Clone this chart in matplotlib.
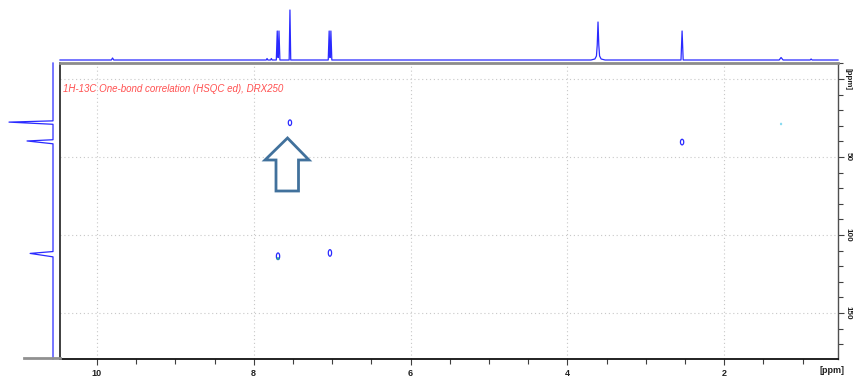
import matplotlib
matplotlib.use("Agg")
import matplotlib.pyplot as plt
from matplotlib.patches import Ellipse, Polygon
from matplotlib.ticker import FixedLocator, MultipleLocator

# ---- 1H projection (top trace): chemical shift [ppm] and relative intensity
proton_ppm = [10.47, 9.815, 9.80, 9.785, 7.84, 7.83, 7.82, 7.785, 7.775, 7.765,
              7.712, 7.700, 7.692, 7.686, 7.678, 7.666,
              7.548, 7.538, 7.528,
              7.050, 7.038, 7.030, 7.024, 7.016, 7.004,
              3.70, 3.65, 3.63, 3.62, 3.61, 3.60, 3.59, 3.57, 3.52,
              2.552, 2.538, 2.524,
              1.30, 1.276, 1.25, 0.905, 0.893, 0.88, 0.55]
proton_int = [0.0, 0.0, 0.04, 0.0, 0.0, 0.03, 0.0, 0.0, 0.03, 0.0,
              0.0, 0.58, 0.05, 0.05, 0.58, 0.0,
              0.0, 1.0, 0.0,
              0.0, 0.58, 0.05, 0.05, 0.58, 0.0,
              0.0, 0.02, 0.08, 0.30, 0.76, 0.30, 0.08, 0.02, 0.0,
              0.0, 0.58, 0.0,
              0.0, 0.05, 0.0, 0.0, 0.02, 0.0, 0.0]

# ---- 13C projection (left trace)
carbon_ppm = [-10.3, 26.8, 27.6, 29.0, 38.9, 39.7, 41.5, 110.6, 111.8, 114.0, 179.5]
carbon_int = [0.0, 0.0, 1.0, 0.0, 0.0, 0.59, 0.0, 0.0, 0.52, 0.0, 0.0]

# ---- HSQC cross peaks: 1H shift, 13C shift, phase (+1 CH/CH3, -1 CH2)
cross_h = [7.538, 7.690, 7.028, 2.538, 1.276]
cross_c = [28.0, 113.6, 111.5, 40.4, 28.8]
cross_phase = [1, 1, 1, 1, -1]

# ---- axis ticks
x_major = [10, 8, 6, 4, 2]
y_major = [0, 50, 100, 150]
y_labels = ["[ppm]", "50", "100", "150"]
title = "1H-13C One-bond correlation (HSQC ed), DRX250"

W, H = 854, 377
fig = plt.figure(figsize=(W / 100, H / 100), dpi=100)
fig.patch.set_facecolor("white")

def px_rect(x0, y0, x1, y1):
    """Figure-fraction rect from pixel box (y measured from top)."""
    return [x0 / W, 1 - y1 / H, (x1 - x0) / W, (y1 - y0) / H]

ax = fig.add_axes(px_rect(60, 63, 838, 359))
ax_top = fig.add_axes(px_rect(60, 0, 838, 63))
ax_left = fig.add_axes(px_rect(0, 63, 60, 359))

XLIM = (10.47, 0.55)
YLIM = (179.5, -10.3)
trace_col = "#2a2aff"

# main 2D panel
ax.set_xlim(*XLIM)
ax.set_ylim(*YLIM)
for xv in x_major:
    ax.axvline(xv, color="#c8c8c8", lw=0.8, ls=(0, (1, 2.5)), zorder=0)
for yv in y_major:
    ax.axhline(yv, color="#c8c8c8", lw=0.8, ls=(0, (1, 2.5)), zorder=0)

for h, c, ph in zip(cross_h, cross_c, cross_phase):
    if ph > 0:
        tall = 4.2 if c > 100 else 3.6
        ax.add_patch(Ellipse((h, c), 0.042, tall, fill=False,
                             ec="#2a2aff", lw=0.9, zorder=3))
    else:
        ax.add_patch(Ellipse((h, c), 0.02, 1.2, fill=True,
                             fc="#7fd8f0", ec="#7fd8f0", lw=0.5, zorder=3))
# second contour level on the 7.69 / 113.6 peak
ax.add_patch(Ellipse((cross_h[1], cross_c[1] + 1.6), 0.03, 1.4, fill=True,
                     fc="#2aa0a0", ec="#2aa0a0", lw=0.5, zorder=4))

ax.xaxis.set_major_locator(FixedLocator(x_major))
ax.xaxis.set_minor_locator(MultipleLocator(0.5))
ax.set_xticklabels([str(v) for v in x_major])
ax.yaxis.tick_right()
ax.yaxis.set_major_locator(FixedLocator(y_major))
ax.yaxis.set_minor_locator(MultipleLocator(10))
ax.set_yticklabels(y_labels)
ax.tick_params(axis="both", which="both", direction="out", colors="#404040",
               labelcolor="#202020", width=0.8)
ax.tick_params(axis="x", which="major", length=4.5, pad=3, labelsize=6.5)
ax.tick_params(axis="y", which="major", length=4, pad=1, labelsize=5.8)
ax.tick_params(axis="both", which="minor", length=3.5)
for lab in ax.get_xticklabels() + ax.get_yticklabels():
    lab.set_fontweight("bold")
    lab.set_family("Liberation Sans")
for lab in ax.get_yticklabels():
    lab.set_rotation(-90)
    lab.set_va("center")
    lab.set_ha("left")
ax.text(0.992, -0.04, "[ppm]", transform=ax.transAxes, ha="center", va="center",
        fontsize=6.5, fontweight="bold", family="Liberation Sans", color="#202020")

ax.spines["top"].set_color("#8c8c8c")
ax.spines["top"].set_linewidth(2.0)
ax.spines["left"].set_color("#303030")
ax.spines["left"].set_linewidth(1.3)
ax.spines["bottom"].set_color("#101010")
ax.spines["bottom"].set_linewidth(1.3)
ax.spines["right"].set_color("#505050")
ax.spines["right"].set_linewidth(1.0)

ax.text(0.004, 0.912, title, transform=ax.transAxes, ha="left", va="center",
        fontsize=7, style="italic", family="Liberation Sans", color="#ff5050")

# 1H projection
ax_top.set_xlim(*XLIM)
ax_top.set_ylim(-0.06, 1.2)
ax_top.plot(proton_ppm, proton_int, color=trace_col, lw=0.9, clip_on=False)
ax_top.axis("off")

# 13C projection (peaks pointing left)
ax_left.set_ylim(*YLIM)
ax_left.set_xlim(1.2045, -0.159)
ax_left.plot(carbon_int, carbon_ppm, color=trace_col, lw=0.9, clip_on=False)
ax_left.plot([24 / 60, 1.0], [0.003, 0.003], transform=ax_left.transAxes,
             color="#909090", lw=2.0, clip_on=False)
ax_left.axis("off")

# outlined block arrow marking the cross peak
arrow_px = [(287.5, 138), (309, 160), (298.5, 160), (298.5, 191),
            (276, 191), (276, 160), (265, 160)]
arrow_pts = [(x / W, 1 - y / H) for x, y in arrow_px]
fig.patches.append(Polygon(arrow_pts, closed=True, transform=fig.transFigure,
                           fc="white", ec="#41719c", lw=2.0, zorder=10))

fig.savefig("out.png", dpi=100)
